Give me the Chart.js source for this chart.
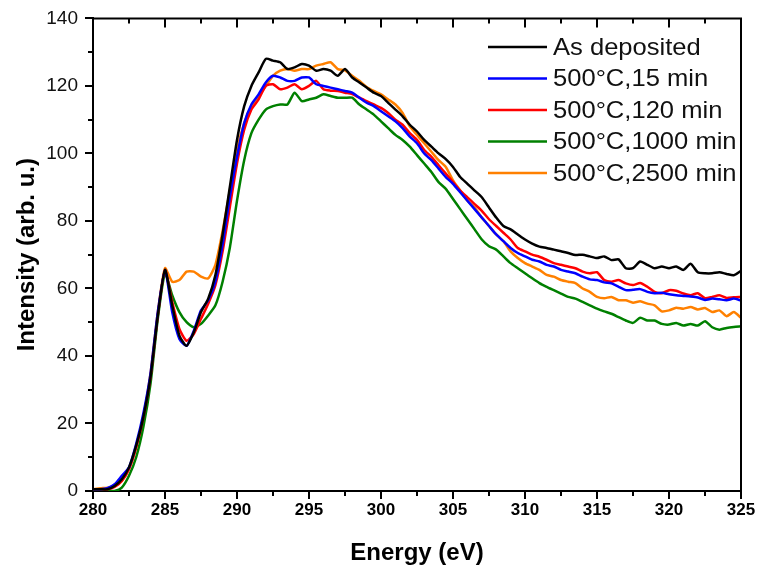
<!DOCTYPE html>
<html>
<head>
<meta charset="utf-8">
<script src="https://cdn.jsdelivr.net/npm/chart.js@4/dist/chart.umd.min.js"></script>
<style>
html,body{margin:0;padding:0;background:#fff;}
#wrap{width:758px;height:575px;}
</style>
</head>
<body>
<div id="wrap"><canvas id="c" width="758" height="575"></canvas></div>
<script>
// ---- Data ----
const energy = [280,280.5,281,281.5,282,282.5,283,283.5,284,284.5,285,285.5,286,286.5,287,287.5,288,288.5,289,289.5,290,290.5,291,291.5,292,292.5,293,293.5,294,294.5,295,295.5,296,296.5,297,297.5,298,298.5,299,299.5,300,300.5,301,301.5,302,302.5,303,303.5,304,304.5,305,305.5,306,306.5,307,307.5,308,308.5,309,309.5,310,310.5,311,311.5,312,312.5,313,313.5,314,314.5,315,315.5,316,316.5,317,317.5,318,318.5,319,319.5,320,320.5,321,321.5,322,322.5,323,323.5,324,324.5,325];

const asDeposited = [0.5,0.5,0.5,1.5,3.5,7,13.5,22,34,52,65.5,55,46,43,47,53,57,64,76,90,104,114,120,124,128,127.5,127,125,125.5,126.5,126,124.5,125,124.5,123,125,122.5,121,119.5,118,117,115,113,111,108.5,106.5,104,102,100,98.3,96,93,91,89,87,84,81,78.5,77.5,76,74.5,73.3,72.4,72,71.5,71,70.5,69.9,70,69.5,69,69.5,68.4,68.6,66,66,68,67,66,66.5,66,66.5,65.5,67.3,64.8,64.5,64.5,64.8,64.3,63.9,65.2];

const min15 = [0.5,0.5,0.8,2,4.5,7,14,23,35,53,65.5,53,45,43,47.5,53.5,56.5,62,73,87,99,109,114.5,117.5,121,123,122.5,121.5,121.5,122.5,122.5,120.5,120,119.5,119,118.5,118,116.5,115,114,112.5,111,109.5,107.5,105,103,100,98,95.5,93,91,88.5,86,83.5,81,78.5,76,74,72,70.5,69.5,68.5,68,67,66.5,65.5,65,64.5,63.5,62.7,62.5,61.8,61.5,60.5,59.5,59.6,59.8,59,58.6,58.7,58.3,58,57.8,57.6,57.3,56.6,57,56.8,56.5,57,56.4];

const min120 = [0.5,0.5,0.5,1.2,3,6.5,13,22,34,52,65.5,56,48,44.5,46.5,51,55.5,61,71,84,97,107,113,116,120,120.5,119,119.5,120.5,119,120,121.5,119,118.6,118.5,118,117.6,116.5,115.5,114.5,113.5,112,110,108.5,106,104,101,99,96.5,94,91.5,89,87,85,83,80.5,78.5,76.5,74.5,72,71,70,69.4,68.5,67.5,67,66.5,66,65,64.5,64.8,62.5,62,62.5,61.5,61,61.6,60.5,59,58.6,59.5,59.3,58.5,58,58.6,57.1,57.5,58,57.2,57.4,57.5];

const min1000 = [0,0,0,0,1,4.5,10,19,32,51,64.5,58,53,50,48.5,49.5,52,55,62,72,86,98,106,110,113,114,114.5,114.5,118,115.5,116,116.5,117.5,117,116.5,116.5,116.5,114.5,113,111.5,109.5,107.5,105.5,104,102,99.5,97,94.5,91.5,89.5,86.5,83.5,80.5,77.5,74.5,72.5,71.5,69.5,67.5,66,64.5,63,61.6,60.5,59.5,58.5,57.5,57,56,55,54,53.2,52.5,51.5,50.5,49.8,51.3,50.5,50.5,49.5,49.3,49.8,49,49.5,49,50.3,48.5,47.8,48.3,48.6,48.8];

const min2500 = [0.5,0.8,1,1.5,3,6.5,13,22,35,53,66,62,62.5,65,65,63.5,63,67,77,89,101,109,114,117,120,123,124.5,125,124.5,125,125,126,126.5,127,125,124.6,123,121.5,119.7,118.5,117.5,116,114.5,112,108,105.5,103,100.5,98,96,92,89,86,84,81,78.5,76,74,71,69,67.5,66.5,65.5,64,63.5,62.5,62,61.6,60,59,57.5,57.1,57.5,56.5,56.5,55.8,56.2,55.5,55,53.2,53.5,54.3,54,54.5,53.8,54.2,53,53.5,51.8,53,51.3];

const seriesNames = ['As deposited','500\u00B0C,15 min','500\u00B0C,120 min','500\u00B0C,1000 min','500\u00B0C,2500 min'];
const seriesColors = ['#000000','#0000ff','#ff0000','#008000','#ff8000'];
const seriesValues = [asDeposited, min15, min120, min1000, min2500];

const xTicks = [280,285,290,295,300,305,310,315,320,325];
const yTicks = [0,20,40,60,80,100,120,140];

// ---- Build datasets ----
const datasets = seriesValues.map((vals, i) => ({
  label: seriesNames[i],
  data: vals.map((v, k) => ({x: energy[k], y: v})),
  borderColor: seriesColors[i],
  backgroundColor: seriesColors[i],
  borderWidth: 2.5,
  pointRadius: 0,
  tension: 0.2,
  fill: false
}));

const frame = {
  id: 'frame',
  afterDraw(chart) {
    const ctx = chart.ctx;
    const a = chart.chartArea;
    const xs = chart.scales.x, ys = chart.scales.y;
    ctx.save();
    ctx.strokeStyle = '#000';
    ctx.lineWidth = 2;
    // top & right border
    ctx.beginPath();
    ctx.moveTo(a.left, a.top); ctx.lineTo(a.right, a.top); ctx.lineTo(a.right, a.bottom);
    ctx.stroke();
    // x ticks: bottom minor outward, top inward major+minor
    for (let v = xs.min; v <= xs.max + 0.001; v += 2.5) {
      const px = Math.round(xs.getPixelForValue(v));
      const major = Math.abs(v % 5) < 0.001;
      ctx.beginPath();
      if (!major) { ctx.moveTo(px, a.bottom); ctx.lineTo(px, a.bottom + 5); }
      if (v > xs.min && v < xs.max) { ctx.moveTo(px, a.top); ctx.lineTo(px, a.top + (major ? 9 : 5)); }
      ctx.stroke();
    }
    // y minor ticks
    for (let v = 10; v < ys.max; v += 20) {
      const py = Math.round(ys.getPixelForValue(v));
      ctx.beginPath(); ctx.moveTo(a.left, py); ctx.lineTo(a.left - 5, py); ctx.stroke();
    }
    // legend
    ctx.font = '24px "Liberation Sans", Arial, sans-serif';
    ctx.textBaseline = 'middle';
    ctx.textAlign = 'left';
    chart.data.datasets.forEach((ds, i) => {
      const y = 47 + i * 31.5;
      ctx.strokeStyle = ds.borderColor;
      ctx.lineWidth = 2.5;
      ctx.beginPath(); ctx.moveTo(488, y); ctx.lineTo(547, y); ctx.stroke();
      ctx.fillStyle = '#111';
      ctx.save();
      ctx.translate(553, y + 1);
      ctx.scale(1.065, 1);
      ctx.fillText(ds.label, 0, 0);
      ctx.restore();
    });
    ctx.restore();
  }
};

new Chart(document.getElementById('c'), {
  type: 'line',
  data: { datasets },
  options: {
    responsive: false,
    animation: false,
    devicePixelRatio: 1,
    layout: { padding: { top: 15, right: 17, left: 0, bottom: 0 } },
    plugins: { legend: { display: false }, tooltip: { enabled: false } },
    scales: {
      x: {
        type: 'linear', min: 280, max: 325,
        afterBuildTicks: s => { s.ticks = xTicks.map(v => ({value: v})); },
        afterFit: s => { s.height = 84; },
        ticks: { color: '#000', padding: 1, maxRotation: 0, autoSkip: false,
                 font: { family: '"Liberation Sans Narrow", "Liberation Sans", Arial', size: 17, weight: 'bold' } },
        grid: { display: true, drawOnChartArea: false, drawTicks: true, tickLength: 8, color: '#000', lineWidth: 2 },
        border: { display: true, color: '#000', width: 2 },
        title: { display: true, text: 'Energy (eV)', color: '#000', padding: { top: 0, bottom: 7 },
                 font: { family: '"Liberation Sans Narrow", "Liberation Sans", Arial', size: 24, weight: 'bold' } }
      },
      y: {
        min: 0, max: 140,
        afterBuildTicks: s => { s.ticks = yTicks.map(v => ({value: v})); },
        afterFit: s => { s.width = 93; },
        ticks: { color: '#111', padding: 7,
                 font: { family: '"Liberation Sans", Arial', size: 19 } },
        grid: { display: true, drawOnChartArea: false, drawTicks: true, tickLength: 8, color: '#000', lineWidth: 2 },
        border: { display: true, color: '#000', width: 2 },
        title: { display: true, text: 'Intensity (arb. u.)', color: '#000', padding: { top: 13, bottom: 0 },
                 font: { family: '"Liberation Sans", Arial', size: 24, weight: 'bold' } }
      }
    }
  },
  plugins: [frame]
});
</script>
</body>
</html>
